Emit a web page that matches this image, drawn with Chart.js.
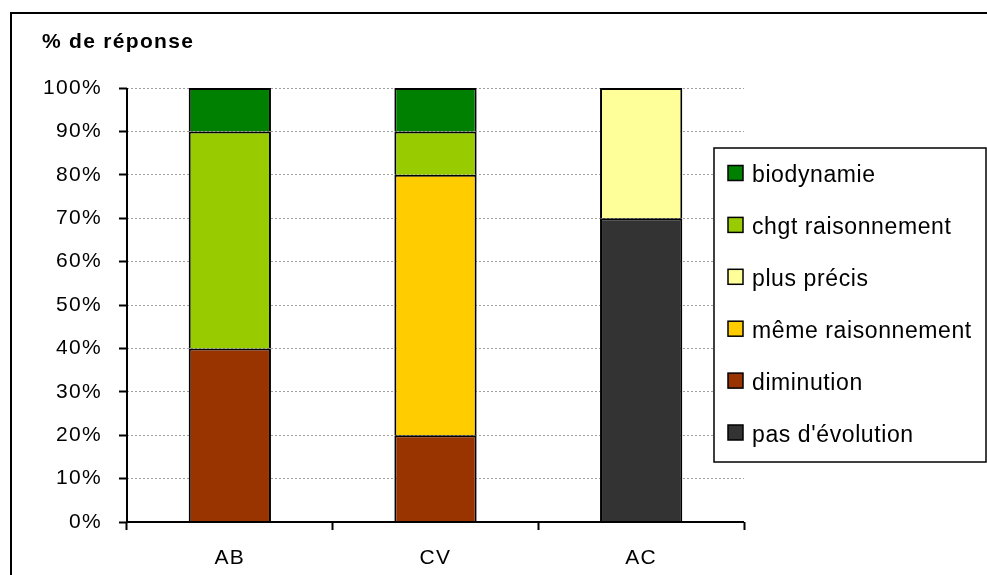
<!DOCTYPE html>
<html>
<head>
<meta charset="utf-8">
<script src="https://cdn.jsdelivr.net/npm/chart.js@4/dist/chart.umd.min.js"></script>
<style>
  html, body { margin: 0; padding: 0; background: #fff; }
  #wrap { position: relative; width: 987px; height: 575px; }
</style>
</head>
<body>
<div id="wrap"><canvas id="c" width="987" height="575"></canvas></div>
<script>
// Categories and series (percent of answers), stacked bottom to top
const categories = ['AB', 'CV', 'AC'];
const pasEvolution     = [null, null, 70];
const diminution       = [40, 20, null];
const memeRaisonnement = [null, 60, null];
const plusPrecis       = [null, null, 30];
const chgtRaisonnement = [50, 10, null];
const biodynamie       = [10, 10, null];

const seriesNames  = ["pas d'évolution", 'diminution', 'même raisonnement', 'plus précis', 'chgt raisonnement', 'biodynamie'];
const seriesValues = [pasEvolution, diminution, memeRaisonnement, plusPrecis, chgtRaisonnement, biodynamie];
const seriesColors = ['#333333', '#993300', '#FFCC00', '#FFFF99', '#99CC00', '#008000'];

const yTickValues = [0, 10, 20, 30, 40, 50, 60, 70, 80, 90, 100];
const yTitle = '% de réponse';

const FONT = '"Liberation Sans", Arial, sans-serif';
const SPACING = '1.3px';

const datasets = seriesNames.map((name, i) => ({
  label: name,
  data: seriesValues[i],
  backgroundColor: seriesColors[i],
  borderColor: '#000',
  borderWidth: 2,
  barPercentage: 0.4,
  categoryPercentage: 1.0
}));

// Slightly wider letter spacing for all canvas text
const spacing = {
  id: 'spacing',
  beforeLayout(chart) { chart.ctx.letterSpacing = SPACING; },
  beforeDraw(chart) { chart.ctx.letterSpacing = SPACING; }
};

// Frame, axis lines, title and boxed legend
const decorations = {
  id: 'decorations',
  afterDraw(chart) {
    const ctx = chart.ctx;
    const area = chart.chartArea;
    const y = chart.scales.y;
    ctx.save();
    ctx.letterSpacing = SPACING;
    ctx.fillStyle = '#000';
    // outer frame (top and left edges)
    ctx.fillRect(10, 12, 977, 2);
    ctx.fillRect(10, 12, 2, 563);
    // axis lines
    ctx.strokeStyle = '#000';
    ctx.lineWidth = 2;
    ctx.beginPath();
    ctx.moveTo(area.left, y.getPixelForValue(100));
    ctx.lineTo(area.left, area.bottom);
    ctx.lineTo(area.right, area.bottom);
    ctx.stroke();
    // y axis title
    ctx.font = 'bold 21px ' + FONT;
    ctx.textBaseline = 'alphabetic';
    ctx.textAlign = 'left';
    ctx.fillText(yTitle, 42, 48);
    // legend box
    const lx = 714, ly = 148, lw = 272, lh = 314;
    ctx.fillStyle = '#fff';
    ctx.fillRect(lx, ly, lw, lh);
    ctx.lineWidth = 1.5;
    ctx.strokeRect(lx, ly, lw, lh);
    ctx.font = '23px ' + FONT;
    ctx.letterSpacing = '0.6px';
    const order = chart.data.datasets.slice().reverse();
    order.forEach((ds, i) => {
      const cy = 173 + i * 51.9;
      ctx.fillStyle = ds.backgroundColor;
      ctx.fillRect(728, cy - 7.5, 15, 15);
      ctx.lineWidth = 1.5;
      ctx.strokeStyle = '#000';
      ctx.strokeRect(728, cy - 7.5, 15, 15);
      ctx.fillStyle = '#000';
      ctx.fillText(ds.label, 752, cy + 9);
    });
    ctx.restore();
  }
};

new Chart(document.getElementById('c'), {
  type: 'bar',
  data: { labels: categories, datasets },
  options: {
    responsive: false,
    animation: false,
    devicePixelRatio: 1,
    layout: { padding: { top: 88, right: 243, left: 0, bottom: 0 } },
    plugins: { legend: { display: false }, tooltip: { enabled: false }, title: { display: false } },
    scales: {
      x: {
        stacked: true,
        afterFit(s) { s.height = 53; s.paddingLeft = 0; s.paddingRight = 0; },
        border: { display: false },
        grid: {
          display: true, offset: true, drawOnChartArea: false, drawTicks: true,
          tickLength: 8, tickColor: '#000', tickWidth: 2
        },
        ticks: { color: '#000', font: { family: FONT, size: 21 }, padding: 16 }
      },
      y: {
        stacked: true,
        min: 0, max: 100,
        afterFit(s) { s.width = 127; s.paddingTop = 0; s.paddingBottom = 0; },
        afterBuildTicks(s) { s.ticks = yTickValues.map(v => ({ value: v })); },
        border: { display: false, dash: [2, 2] },
        grid: {
          color: '#a0a0a0', lineWidth: 1, drawTicks: true,
          tickLength: 8, tickColor: '#000', tickWidth: 2, tickBorderDash: []
        },
        ticks: {
          color: '#000', font: { family: FONT, size: 21 }, padding: 17,
          callback: v => v + '%'
        }
      }
    }
  },
  plugins: [spacing, decorations]
});
</script>
</body>
</html>
